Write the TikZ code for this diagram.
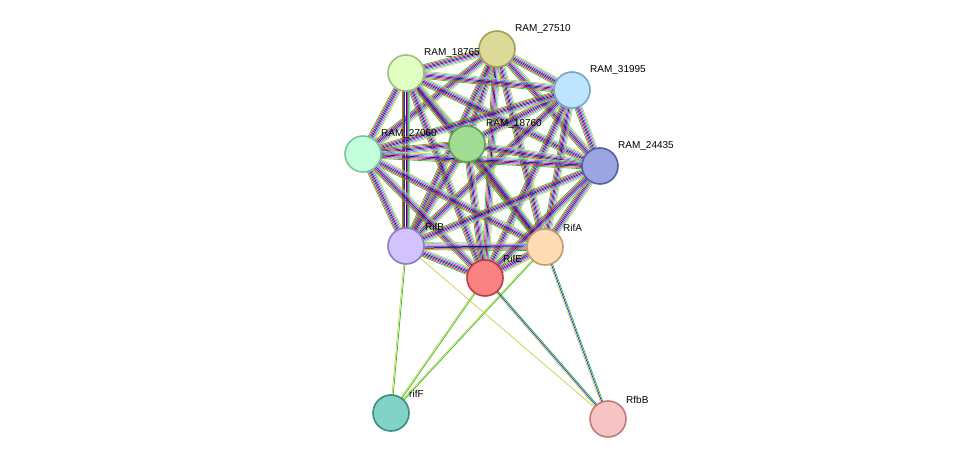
\documentclass[tikz,border=0pt]{standalone}
\usepackage{fontspec}
\setmainfont{Liberation Sans}
\usetikzlibrary{calc,backgrounds}
\definecolor{egreen}{HTML}{22C022}
\definecolor{ered}{HTML}{FF2020}
\definecolor{eblue}{HTML}{2020FF}
\definecolor{eblack}{HTML}{222222}
\definecolor{emag}{HTML}{E020E0}
\definecolor{ecyan}{HTML}{20C8E8}
\definecolor{eyel}{HTML}{C8D040}
\newcommand{\medge}[3]{%
  \foreach \c [count=\i] in {#3} {\xdef\ncount{\i}}%
  \foreach \c [count=\i] in {#3} {%
    \pgfmathsetmacro{\o}{(\i-(\ncount+1)/2)*1.2}%
    \draw[draw=\c,line width=0.7pt] ($(#1)!\o pt!90:(#2)$) -- ($(#2)!\o pt!-90:(#1)$);}}
\tikzset{prot/.style={circle,minimum size=36pt,inner sep=0pt,line width=1.6pt},
 lab/.style={font=\fontsize{10}{12}\selectfont,anchor=south west,inner sep=1pt}}
\begin{document}
\begin{tikzpicture}[x=1pt,y=-1pt]
\useasboundingbox (0,0) rectangle (975,465);
\node[prot,fill={rgb,255:red,220;green,218;blue,150},draw={rgb,255:red,160;green,158;blue,90}] (n27510) at (497,49) {};
\node[prot,fill={rgb,255:red,225;green,255;blue,195},draw={rgb,255:red,160;green,190;blue,130}] (n18765) at (406,73) {};
\node[prot,fill={rgb,255:red,190;green,228;blue,255},draw={rgb,255:red,120;green,165;blue,200}] (n31995) at (572,90) {};
\node[prot,fill={rgb,255:red,160;green,220;blue,145},draw={rgb,255:red,95;green,160;blue,85}] (n18760) at (467,144) {};
\node[prot,fill={rgb,255:red,195;green,255;blue,220},draw={rgb,255:red,125;green,195;blue,155}] (n27060) at (363,154) {};
\node[prot,fill={rgb,255:red,155;green,165;blue,225},draw={rgb,255:red,85;green,95;blue,165}] (n24435) at (600,166) {};
\node[prot,fill={rgb,255:red,210;green,195;blue,255},draw={rgb,255:red,140;green,125;blue,190}] (rifB) at (406,246) {};
\node[prot,fill={rgb,255:red,255;green,220;blue,180},draw={rgb,255:red,195;green,155;blue,115}] (rifA) at (545,247) {};
\node[prot,fill={rgb,255:red,250;green,130;blue,130},draw={rgb,255:red,190;green,60;blue,60}] (rifE) at (485,278) {};
\node[prot,fill={rgb,255:red,130;green,210;blue,200},draw={rgb,255:red,60;green,140;blue,130}] (rifF) at (391,413) {};
\node[prot,fill={rgb,255:red,248;green,195;blue,195},draw={rgb,255:red,190;green,125;blue,125}] (rfbB) at (608,419) {};
\node[lab] at (514,35) {RAM\_27510};
\node[lab] at (423,59) {RAM\_18765};
\node[lab] at (589,76) {RAM\_31995};
\node[lab] at (485,130) {RAM\_18760};
\node[lab] at (380,140) {RAM\_27060};
\node[lab] at (617,152) {RAM\_24435};
\node[lab] at (424,232) {RifB};
\node[lab] at (562,233) {RifA};
\node[lab] at (502,264) {RifE};
\node[lab] at (408,399) {rifF};
\node[lab] at (625,405) {RfbB};
\begin{pgfonlayer}{background}
\foreach \a/\b in {n27510/n18765,n27510/n31995,n27510/n18760,n27510/n27060,n27510/n24435,n27510/rifB,n27510/rifA,n27510/rifE,
n18765/n31995,n18765/n18760,n18765/n27060,n18765/n24435,n18765/rifB,n18765/rifA,n18765/rifE,
n31995/n18760,n31995/n27060,n31995/n24435,n31995/rifB,n31995/rifA,n31995/rifE,
n18760/n27060,n18760/n24435,n18760/rifB,n18760/rifA,n18760/rifE,
n27060/n24435,n27060/rifB,n27060/rifA,n27060/rifE,
n24435/rifB,n24435/rifA,n24435/rifE,
rifB/rifA,rifB/rifE,rifA/rifE}{\medge{\a}{\b}{egreen,ered,eblue,eblack,emag,ecyan,eyel}}
\medge{rifF}{rifB}{egreen,eyel}
\medge{rifF}{rifE}{egreen,eyel}
\medge{rifF}{rifA}{egreen,eyel}
\medge{rfbB}{rifB}{eyel}
\medge{rfbB}{rifE}{egreen,eblue,eyel}
\medge{rfbB}{rifA}{egreen,eblue,eyel}
\end{pgfonlayer}
\end{tikzpicture}
\end{document}
